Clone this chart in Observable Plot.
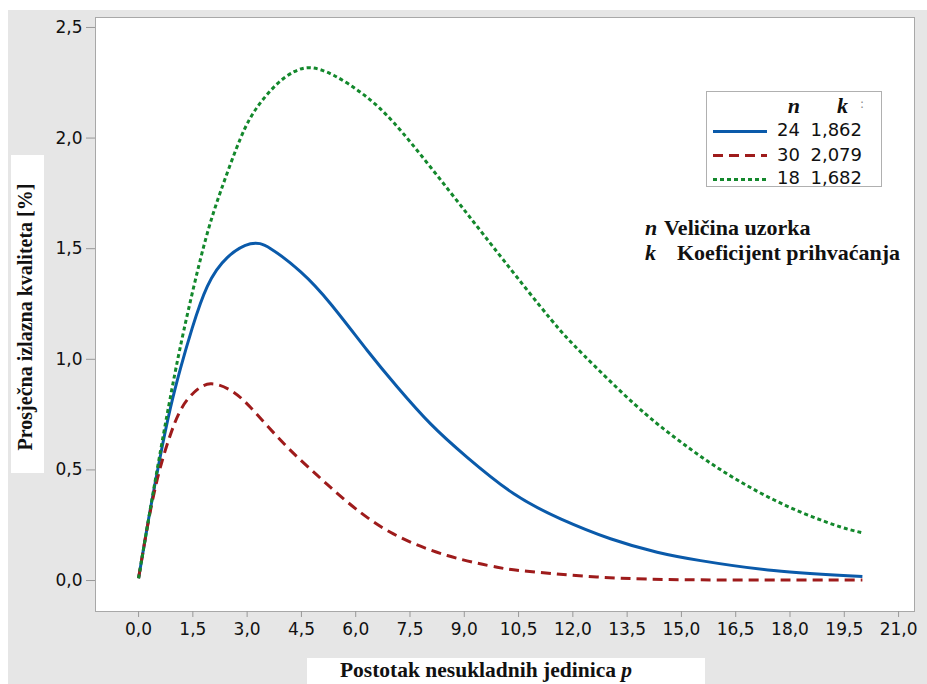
<!DOCTYPE html>
<html>
<head>
<meta charset="utf-8">
<script src="https://cdn.jsdelivr.net/npm/d3@7"></script>
<script src="https://cdn.jsdelivr.net/npm/@observablehq/plot@0.6"></script>
<style>
  html, body { margin: 0; padding: 0; background: #ffffff; }
  #wrap { position: relative; width: 927px; height: 684px; overflow: hidden; background: #ffffff; }
  #bg { position: absolute; left: 8px; top: 10px; right: 0; bottom: 0; background: #e6e6e6; }
  #chart { position: absolute; left: 0; top: 0; }
  #overlay { position: absolute; left: 0; top: 0; pointer-events: none; overflow: visible; }
</style>
</head>
<body>
<div id="wrap">
  <div id="bg"></div>
  <div id="chart"></div>
</div>
<script>
// ---- data ----
const seriesN = [24, 30, 18];
const seriesK = ["1,862", "2,079", "1,682"];
const seriesColor = ["#0a5aaa", "#9e1b1b", "#13882c"];
const seriesDash = [null, "10,6", "4,3"];

const p24 = [0, 0.29, 0.61, 0.88, 1.16, 1.48, 1.90, 2.45, 3.09, 3.65, 4.48, 5.31, 6.32, 7.15, 8.07, 9.08, 10.37, 11.66, 13.04, 14.33, 15.53, 17.55, 20.0];
const aoq24 = [0.01, 0.29, 0.57, 0.78, 0.96, 1.14, 1.33, 1.46, 1.522, 1.50, 1.395, 1.25, 1.04, 0.875, 0.708, 0.557, 0.392, 0.279, 0.189, 0.128, 0.090, 0.045, 0.018];

const p30 = [0, 0.24, 0.52, 0.84, 1.16, 1.53, 1.99, 2.54, 3.09, 4.02, 4.94, 5.77, 6.96, 8.53, 9.91, 10.74, 12.77, 15.53, 20.0];
const aoq30 = [0.01, 0.24, 0.46, 0.64, 0.77, 0.85, 0.889, 0.86, 0.783, 0.618, 0.475, 0.355, 0.218, 0.113, 0.06, 0.042, 0.015, 0.003, 0.002];

const p18 = [0, 0.3, 0.61, 0.88, 1.25, 1.80, 2.27, 2.82, 3.28, 3.83, 4.3, 4.75, 5.40, 6.23, 7.05, 8.07, 9.08, 10.09, 11.38, 12.30, 13.69, 14.79, 15.71, 16.63, 17.55, 18.48, 19.4, 20.0];
const aoq18 = [0.01, 0.30, 0.59, 0.83, 1.13, 1.51, 1.76, 2.00, 2.14, 2.245, 2.30, 2.318, 2.283, 2.195, 2.07, 1.868, 1.658, 1.447, 1.183, 1.019, 0.799, 0.650, 0.541, 0.446, 0.365, 0.297, 0.242, 0.216];

const xTicks = [0, 1.5, 3, 4.5, 6, 7.5, 9, 10.5, 12, 13.5, 15, 16.5, 18, 19.5, 21];
const yTicks = [0, 0.5, 1, 1.5, 2, 2.5];

const yTitle = "Prosječna izlazna kvaliteta [%]";
const xTitle = "Postotak nesukladnih jedinica ";
const xTitleVar = "p";
const noteVars = ["n", "k"];
const noteTexts = ["Veličina uzorka", "Koeficijent prihvaćanja"];

const pArr = [p24, p30, p18];
const aArr = [aoq24, aoq30, aoq18];
const rows = [];
seriesN.forEach((n, i) => pArr[i].forEach((p, j) => rows.push({n, p, aoq: aArr[i][j]})));

const fmt = d => d3.format(".1f")(d).replace(".", ",");
const tickFont = {fontFamily: "DejaVu Sans, sans-serif", fontSize: 17};

const lines = [0, 1, 2].map(i => Plot.line(rows.filter(r => r.n === seriesN[i]), {
  x: "p", y: "aoq", stroke: seriesColor[i], strokeWidth: 3,
  strokeDasharray: seriesDash[i], curve: "natural", strokeLinecap: "butt"
}));

const plot = Plot.plot({
  width: 927, height: 684,
  marginLeft: 95, marginTop: 17, marginRight: 13, marginBottom: 73,
  style: {background: "transparent", color: "#111", fontFamily: "DejaVu Sans, sans-serif", fontSize: "17px", overflow: "visible"},
  x: {domain: [-1.19, 21.44]},
  y: {domain: [-0.14, 2.545]},
  marks: [
    Plot.frame({fill: "white", stroke: "#a8a8a8"}),
    Plot.axisY({ticks: yTicks, tickFormat: fmt, tickSize: 9, tickPadding: 4, label: null, stroke: "#999", ...tickFont, fill: "#111"}),
    Plot.axisX({ticks: xTicks, tickFormat: fmt, tickSize: 6, tickPadding: 5, label: null, stroke: "#999", ...tickFont, fill: "#111"}),
    ...lines
  ]
});
document.getElementById("chart").appendChild(plot);

// ---- overlay: axis titles, legend, notes ----
const ns = "http://www.w3.org/2000/svg";
const ov = document.createElementNS(ns, "svg");
ov.setAttribute("id", "overlay");
ov.setAttribute("width", 927); ov.setAttribute("height", 684);
document.getElementById("wrap").appendChild(ov);
function el(tag, attrs, parent) {
  const e = document.createElementNS(ns, tag);
  for (const k in attrs) if (attrs[k] != null) e.setAttribute(k, attrs[k]);
  (parent || ov).appendChild(e);
  return e;
}
function txt(x, y, s, opts) {
  const t = el("text", Object.assign({x, y, fill: "#111"}, opts));
  t.textContent = s;
  return t;
}
const SERIF = "Liberation Serif, Times New Roman, serif";
const SANS = "DejaVu Sans, sans-serif";

// y title box
el("rect", {x: 11, y: 155, width: 33, height: 318, fill: "#fff"});
txt(0, 0, yTitle, {transform: "translate(32,317) rotate(-90)", "text-anchor": "middle", "font-family": SERIF, "font-size": 20, "font-weight": "bold"});

// x title box
el("rect", {x: 307, y: 658, width: 398, height: 30, fill: "#fff"});
const xt = txt(486, 677, xTitle, {"text-anchor": "middle", "font-family": SERIF, "font-size": 21.5, "font-weight": "bold"});
const ts = el("tspan", {"font-style": "italic"}, xt); ts.textContent = xTitleVar;

// legend
el("rect", {x: 706.5, y: 91.5, width: 175, height: 95, fill: "#fff", stroke: "#b0b0b0", "stroke-width": 1});
txt(800, 113, "n", {"text-anchor": "end", "font-family": SERIF, "font-size": 22, "font-style": "italic", "font-weight": "bold"});
txt(848, 113, "k", {"text-anchor": "end", "font-family": SERIF, "font-size": 22, "font-style": "italic", "font-weight": "bold"});
txt(862, 108, ":", {"text-anchor": "middle", "font-family": SANS, "font-size": 12, fill: "#888"});
const rowLineY = [131.5, 155.5, 179.5];
const rowBase = [136, 160.5, 184];
seriesN.forEach((n, i) => {
  el("line", {x1: 713, x2: 767, y1: rowLineY[i], y2: rowLineY[i], stroke: seriesColor[i], "stroke-width": 3, "stroke-dasharray": seriesDash[i]});
  txt(800, rowBase[i], String(n), {"text-anchor": "end", "font-family": SANS, "font-size": 18});
  txt(862, rowBase[i], seriesK[i], {"text-anchor": "end", "font-family": SANS, "font-size": 18});
});

// notes
const noteBase = [235, 260];
const noteX = [664, 677];
noteVars.forEach((v, i) => {
  txt(645, noteBase[i], v, {"font-family": SERIF, "font-size": 22, "font-style": "italic", "font-weight": "bold"});
  txt(noteX[i], noteBase[i], noteTexts[i], {"font-family": SERIF, "font-size": 22, "font-weight": "bold"});
});
</script>
</body>
</html>
